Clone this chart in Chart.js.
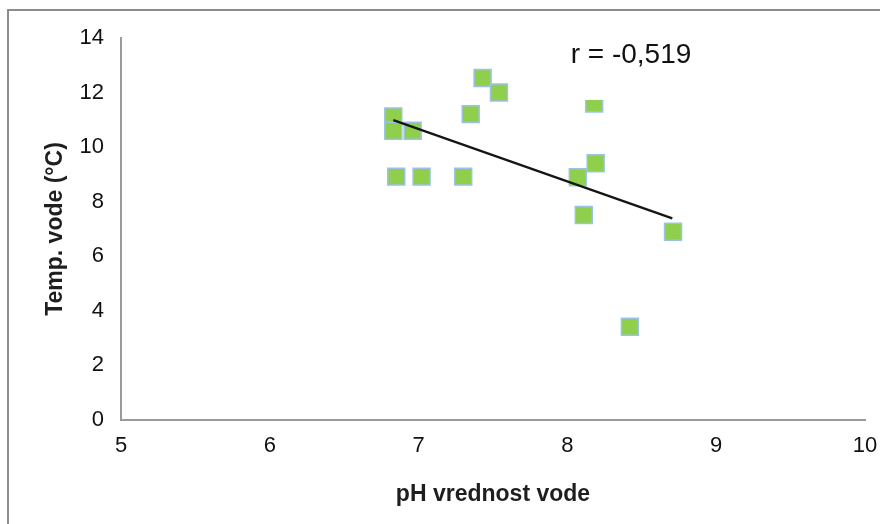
<!DOCTYPE html>
<html>
<head>
<meta charset="utf-8">
<script src="https://cdn.jsdelivr.net/npm/chart.js@4"></script>
<style>
  html, body { margin: 0; padding: 0; background: #fff; overflow: hidden; }
  #okvir {
    position: absolute; left: 7px; top: 9px; width: 900px; height: 600px;
    border-left: 2px solid #8c8c8c; border-top: 2px solid #8c8c8c;
  }
  #wrap { position: absolute; left: 0; top: 0; width: 880px; height: 524px; }
</style>
</head>
<body>
<div id="okvir"></div>
<div id="wrap"><canvas id="grafik"></canvas></div>
<script>
// pH vode (x) i temperatura vode (y)
const phVrijednosti = [6.83, 6.83, 6.96, 6.85, 7.02, 7.30, 7.35, 7.43, 7.54, 8.18, 8.07, 8.19, 8.11, 8.71, 8.42];
const tempVrijednosti = [11.12, 10.60, 10.60, 8.92, 8.92, 8.92, 11.21, 12.53, 12.0, 11.6, 8.9, 9.41, 7.51, 6.90, 3.42];

// linija trenda (pocetak i kraj)
const trendX = [6.83, 8.705];
const trendY = [10.99, 7.39];

const xTicks = [5, 6, 7, 8, 9, 10];
const yTicks = [0, 2, 4, 6, 8, 10, 12, 14];
const oznakaR = 'r = -0,519';

const tacke = phVrijednosti.map((x, i) => ({ x: x, y: tempVrijednosti[i] }));
const trend = trendX.map((x, i) => ({ x: x, y: trendY[i] }));

// tekst sa koeficijentom korelacije (bijela kutija kao u Excelu)
const pluginR = {
  id: 'oznakaR',
  afterDatasetsDraw(chart) {
    const ctx = chart.ctx;
    ctx.save();
    ctx.fillStyle = '#fff';
    ctx.fillRect(552, 28, 160, 72);
    ctx.fillStyle = '#111';
    ctx.font = '28px "Liberation Sans", Arial, sans-serif';
    ctx.textAlign = 'center';
    ctx.textBaseline = 'middle';
    ctx.fillText(oznakaR, 631, 55);
    ctx.restore();
  }
};

const fontTick = { family: '"Liberation Sans", Arial, sans-serif', size: 22 };
const fontNaslov = { family: '"Liberation Sans", Arial, sans-serif', size: 23, weight: 'bold' };

new Chart(document.getElementById('grafik'), {
  type: 'scatter',
  data: {
    datasets: [
      {
        type: 'line',
        label: 'trend',
        data: trend,
        borderColor: '#151515',
        borderWidth: 2.2,
        pointRadius: 0,
        fill: false,
        order: 0
      },
      {
        label: 'Temp. vode',
        data: tacke,
        pointStyle: 'rect',
        pointRadius: 12,
        pointHoverRadius: 12,
        backgroundColor: '#8fcf4c',
        borderColor: '#9cc3e5',
        borderWidth: 1.5,
        order: 1
      }
    ]
  },
  options: {
    responsive: true,
    maintainAspectRatio: false,
    animation: false,
    layout: { padding: { left: 0, right: 15, top: 38, bottom: 0 } },
    plugins: {
      legend: { display: false },
      tooltip: { enabled: false }
    },
    scales: {
      x: {
        type: 'linear',
        min: 5,
        max: 10,
        afterBuildTicks: (s) => { s.ticks = xTicks.map(v => ({ value: v })); },
        afterFit: (s) => { s.height = 104; s.paddingLeft = 0; s.paddingRight = 0; },
        grid: { display: false, drawTicks: false, tickLength: 0 },
        border: { display: true, color: '#9a9a9a', width: 2 },
        ticks: { font: fontTick, color: '#111', padding: 13, maxRotation: 0 },
        title: { display: true, text: 'pH vrednost vode', font: fontNaslov, color: '#1e1e1e', padding: { top: 0, bottom: 16 } }
      },
      y: {
        type: 'linear',
        min: 0,
        max: 14,
        afterBuildTicks: (s) => { s.ticks = yTicks.map(v => ({ value: v })); },
        afterFit: (s) => { s.width = 121; s.paddingTop = 0; s.paddingBottom = 0; },
        grid: { display: false, drawTicks: false, tickLength: 0 },
        border: { display: true, color: '#9a9a9a', width: 2 },
        ticks: { font: fontTick, color: '#111', padding: 17 },
        title: { display: true, text: 'Temp. vode (°C)', font: fontNaslov, color: '#1e1e1e', padding: { top: 42, bottom: 0 } }
      }
    }
  },
  plugins: [pluginR]
});
</script>
</body>
</html>
